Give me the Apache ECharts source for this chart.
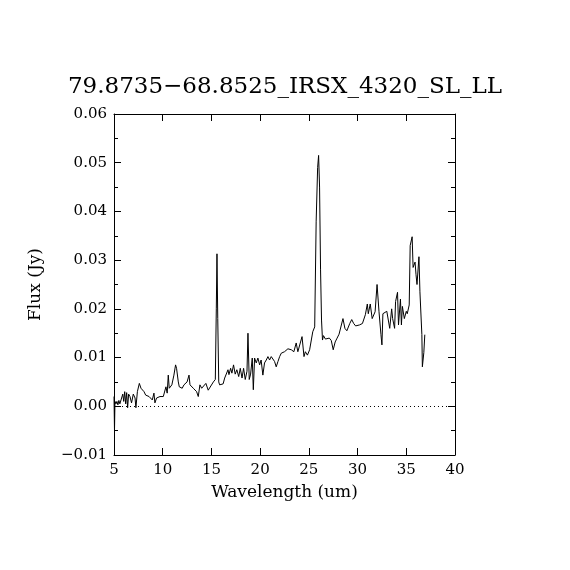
<!DOCTYPE html>
<html>
<head>
<meta charset="utf-8">
<script src="https://cdn.jsdelivr.net/npm/echarts@6/dist/echarts.min.js"></script>
<style>
  html, body { margin: 0; padding: 0; background: #fff; }
  #chart { width: 570px; height: 570px; }
</style>
</head>
<body>
<div id="chart"></div>
<script>
// spectrum: wavelength (um) and flux (Jy)
const wavelength = [
    5.00, 5.05, 5.10, 5.20, 5.30, 5.40, 5.50, 5.60, 5.70, 5.80, 5.90, 6.00,
    6.10, 6.20, 6.30, 6.40, 6.50, 6.64, 6.80, 6.98, 7.16, 7.25, 7.40, 7.60,
    7.77, 7.95, 8.08, 8.25, 8.42, 8.60, 8.77, 8.93, 9.10, 9.20, 9.37, 9.55,
    9.72, 9.90, 10.06, 10.23, 10.33, 10.46, 10.57, 10.67, 10.80, 10.94, 11.15, 11.32,
    11.42, 11.60, 11.70, 11.84, 12.00, 12.18, 12.35, 12.50, 12.70, 12.80, 12.96, 13.14,
    13.30, 13.48, 13.65, 13.82, 14.00, 14.17, 14.43, 14.67, 14.85, 15.20, 15.40, 15.50,
    15.57, 15.65, 15.75, 15.84, 16.00, 16.20, 16.36, 16.53, 16.70, 16.80, 16.97, 17.10,
    17.27, 17.44, 17.61, 17.80, 17.96, 18.14, 18.30, 18.47, 18.65, 18.75, 18.88, 19.02,
    19.19, 19.30, 19.43, 19.60, 19.77, 19.95, 20.10, 20.28, 20.45, 20.63, 20.80, 20.97,
    21.14, 21.30, 21.48, 21.65, 21.83, 22.00, 22.17, 22.50, 22.85, 23.20, 23.46, 23.70,
    23.87, 24.05, 24.30, 24.50, 24.64, 24.85, 25.08, 25.25, 25.40, 25.60, 25.75, 25.90,
    26.00, 26.10, 26.20, 26.30, 26.40, 26.50, 26.70, 26.90, 27.10, 27.30, 27.50, 27.70,
    27.90, 28.10, 28.30, 28.50, 28.70, 28.90, 29.00, 29.20, 29.40, 29.60, 29.80, 30.00,
    30.20, 30.50, 30.80, 31.00, 31.10, 31.30, 31.50, 31.80, 32.00, 32.20, 32.40, 32.50,
    32.60, 32.80, 33.00, 33.30, 33.50, 33.60, 33.80, 33.90, 34.10, 34.20, 34.40, 34.50,
    34.60, 34.80, 35.00, 35.10, 35.30, 35.40, 35.60, 35.70, 35.90, 36.00, 36.10, 36.30,
    36.40, 36.60, 36.65, 36.80, 36.90
];
const flux = [
    0.0020, -0.0050, 0.0010, 0.0005, 0.0010, 0.0003, 0.0012, 0.0005, 0.0009, 0.0002, 0.0025, 0.0010,
    0.0030, 0.0005, 0.0028, -0.0003, 0.0025, 0.0020, 0.0007, 0.0025, 0.0017, -0.0003, 0.0030, 0.0047,
    0.0037, 0.0037, 0.0030, 0.0023, 0.0027, 0.0020, 0.0023, 0.0013, 0.0027, 0.0007, 0.0017, 0.0013,
    0.0020, 0.0017, 0.0020, 0.0023, 0.0040, 0.0027, 0.0064, 0.0037, 0.0037, 0.0044, 0.0064, 0.0085,
    0.0078, 0.0050, 0.0040, 0.0044, 0.0037, 0.0044, 0.0040, 0.0050, 0.0064, 0.0044, 0.0047, 0.0037,
    0.0040, 0.0030, 0.0020, 0.0044, 0.0037, 0.0040, 0.0047, 0.0033, 0.0037, 0.0050, 0.0055, 0.0200,
    0.0313, 0.0180, 0.0050, 0.0044, 0.0040, 0.0046, 0.0058, 0.0055, 0.0075, 0.0065, 0.0078, 0.0068,
    0.0085, 0.0066, 0.0075, 0.0061, 0.0078, 0.0058, 0.0078, 0.0055, 0.0072, 0.0150, 0.0055, 0.0066,
    0.0099, 0.0034, 0.0099, 0.0089, 0.0099, 0.0085, 0.0095, 0.0064, 0.0089, 0.0095, 0.0102, 0.0095,
    0.0102, 0.0105, 0.0092, 0.0081, 0.0092, 0.0102, 0.0109, 0.0112, 0.0118, 0.0116, 0.0112, 0.0130,
    0.0112, 0.0109, 0.0143, 0.0102, 0.0112, 0.0105, 0.0116, 0.0120, 0.0153, 0.0163, 0.0380, 0.0490,
    0.0515, 0.0450, 0.0280, 0.0177, 0.0136, 0.0145, 0.0138, 0.0142, 0.0140, 0.0135, 0.0116, 0.0132,
    0.0140, 0.0148, 0.0150, 0.0180, 0.0160, 0.0155, 0.0153, 0.0170, 0.0178, 0.0170, 0.0165, 0.0168,
    0.0167, 0.0170, 0.0188, 0.0210, 0.0190, 0.0210, 0.0180, 0.0194, 0.0250, 0.0194, 0.0147, 0.0126,
    0.0190, 0.0190, 0.0195, 0.0160, 0.0200, 0.0180, 0.0160, 0.0215, 0.0234, 0.0167, 0.0220, 0.0167,
    0.0205, 0.0180, 0.0195, 0.0190, 0.0208, 0.0330, 0.0348, 0.0285, 0.0296, 0.0270, 0.0250, 0.0307,
    0.0235, 0.0147, 0.0081, 0.0110, 0.0147
];
const xTicks = [5, 10, 15, 20, 25, 30, 35, 40];
const yTicks = [-0.01, 0, 0.01, 0.02, 0.03, 0.04, 0.05, 0.06];

const titleText = '79.8735\u221268.8525_IRSX_4320_SL_LL';
const font = 'DejaVu Serif';

const chart = echarts.init(document.getElementById('chart'));

const fmtY = v => v.toFixed(2).replace('-', '\u2212');

const axisCommon = {
    type: 'value',
    axisLine: { show: true, onZero: false, lineStyle: { color: '#000', width: 1 } },
    axisTick: { show: true, inside: true, length: 7, lineStyle: { color: '#000' } },
    splitLine: { show: false },
};

const option = {
    animation: false,
    backgroundColor: '#fff',
    title: {
        text: titleText,
        left: 'center',
        top: 71,
        textStyle: { fontFamily: font, fontSize: 23, fontWeight: 'normal', color: '#000' },
    },
    grid: { left: 114, right: 115, top: 114, bottom: 115 },
    xAxis: [
        {
            ...axisCommon,
            position: 'bottom',
            min: xTicks[0],
            max: xTicks[xTicks.length - 1],
            interval: 5,
            name: 'Wavelength (um)',
            nameLocation: 'middle',
            nameGap: 29,
            nameTextStyle: { fontFamily: font, fontSize: 17, color: '#000' },
            axisLabel: { margin: 8, fontFamily: font, fontSize: 15, color: '#000' },
        },
        {
            ...axisCommon,
            position: 'top',
            min: xTicks[0],
            max: xTicks[xTicks.length - 1],
            interval: 5,
            axisLabel: { show: false },
        },
    ],
    yAxis: [
        {
            ...axisCommon,
            position: 'left',
            min: yTicks[0],
            max: yTicks[yTicks.length - 1],
            interval: 0.01,
            name: 'Flux (Jy)',
            nameLocation: 'middle',
            nameRotate: 90,
            nameGap: 70,
            nameTextStyle: { fontFamily: font, fontSize: 17, color: '#000' },
            minorTick: { show: true, splitNumber: 2, length: 4, lineStyle: { color: '#000' } },
            axisLabel: { margin: 7, fontFamily: font, fontSize: 15, color: '#000', formatter: fmtY },
        },
        {
            ...axisCommon,
            position: 'right',
            min: yTicks[0],
            max: yTicks[yTicks.length - 1],
            interval: 0.01,
            minorTick: { show: true, splitNumber: 2, length: 4, lineStyle: { color: '#000' } },
            axisLabel: { show: false },
        },
    ],
    series: [
        {
            name: 'Flux',
            type: 'line',
            xAxisIndex: 0,
            yAxisIndex: 0,
            data: wavelength.map((w, i) => [w, flux[i]]),
            showSymbol: false,
            symbol: 'none',
            clip: true,
            lineStyle: { color: '#000', width: 1 },
            markLine: {
                silent: true,
                symbol: 'none',
                label: { show: false },
                lineStyle: { color: '#000', type: [1, 3], width: 1 },
                data: [{ yAxis: 0 }],
            },
        },
    ],
};

chart.setOption(option);
</script>
</body>
</html>
